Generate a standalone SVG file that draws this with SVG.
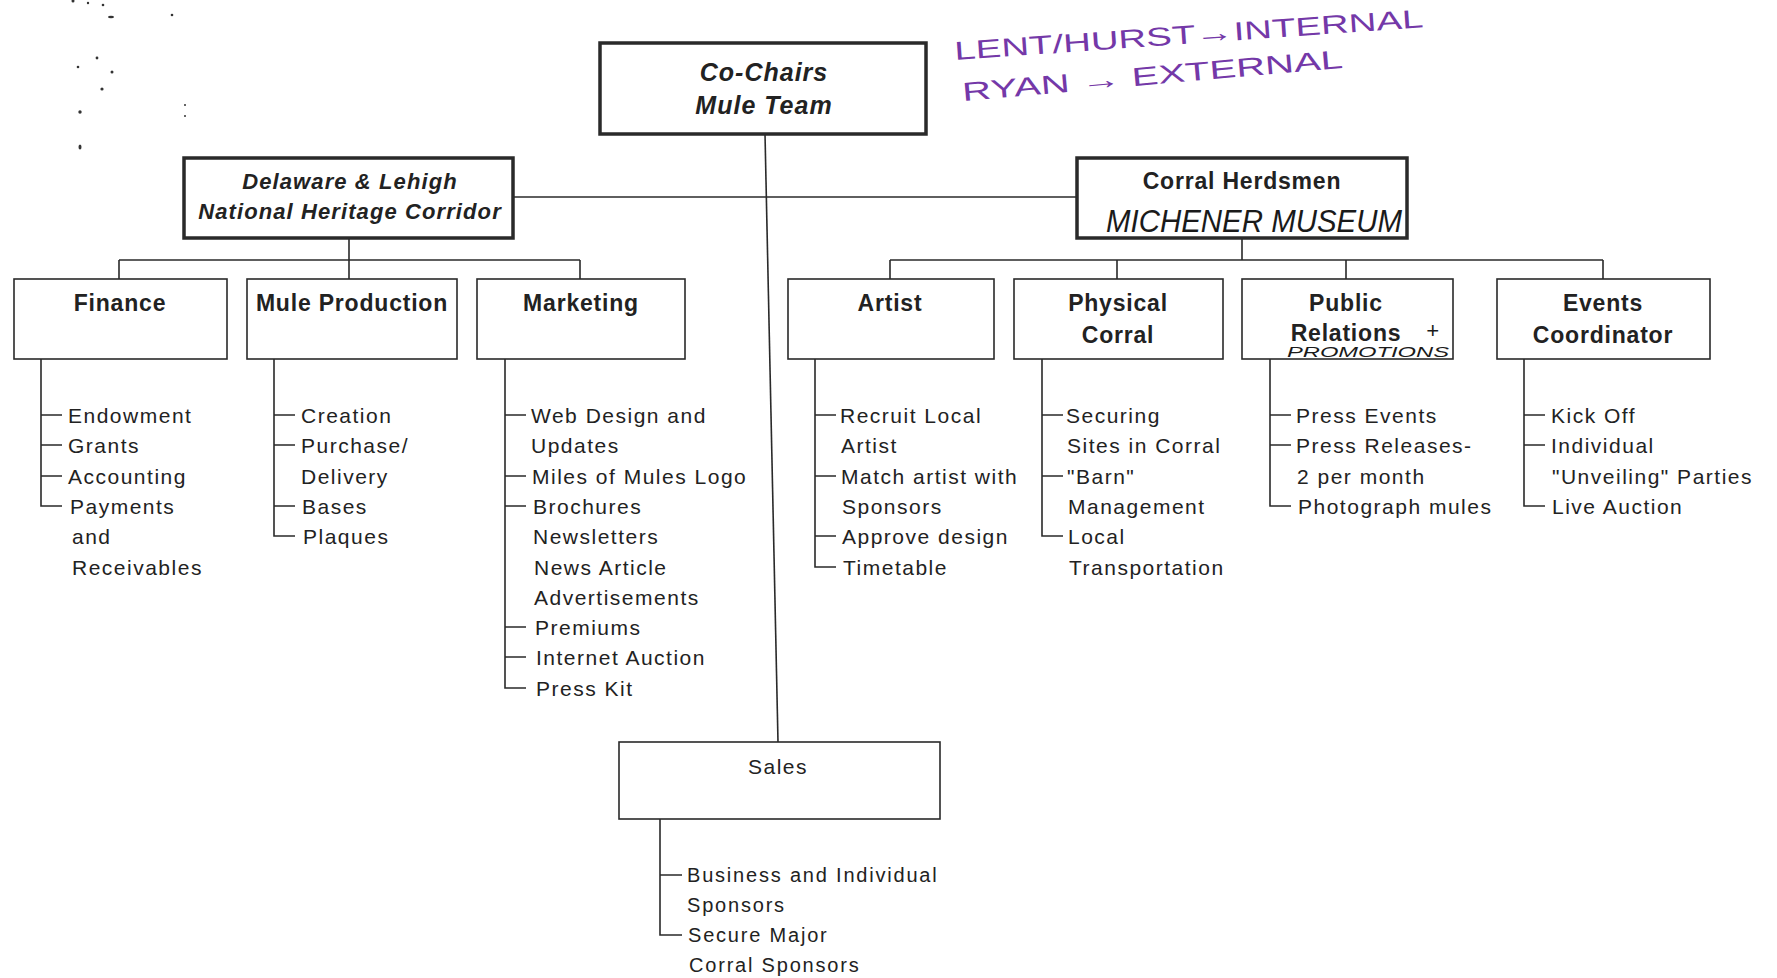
<svg xmlns="http://www.w3.org/2000/svg" width="1777" height="978" viewBox="0 0 1777 978">
<style>
.bg{fill:#ffffff}
.top{fill:#fff;stroke:#2a2a2a;stroke-width:3.5}
.box{fill:#fff;stroke:#2a2a2a;stroke-width:1.6}
.ln{fill:none;stroke:#2a2a2a;stroke-width:1.6}
.t1{font-family:"Liberation Sans",Arial,sans-serif;font-weight:bold;font-style:italic;font-size:25px;letter-spacing:1px;fill:#222;text-anchor:middle}
.t2{font-family:"Liberation Sans",Arial,sans-serif;font-weight:bold;font-style:italic;font-size:22px;letter-spacing:1.1px;fill:#222;text-anchor:middle}
.t3{font-family:"Liberation Sans",Arial,sans-serif;font-weight:bold;font-size:23px;letter-spacing:0.8px;fill:#222;text-anchor:middle}
.ts{font-family:"Liberation Sans",Arial,sans-serif;font-size:21px;letter-spacing:1.5px;fill:#222;text-anchor:middle}
.it{font-family:"Liberation Sans",Arial,sans-serif;font-size:21px;letter-spacing:1.5px;fill:#222}
.is{font-family:"Liberation Sans",Arial,sans-serif;font-size:20px;letter-spacing:1.8px;fill:#222}
.hw{font-family:"Liberation Sans",Arial,sans-serif;font-style:italic;fill:#1a1a1a}
.pu{font-family:"Liberation Sans",Arial,sans-serif;font-size:26px;fill:#7438a8}
.sp{fill:#333}
</style>
<rect class="bg" x="0" y="0" width="1777" height="978"/>

<g id="scan-specks">
<circle class="sp" cx="73" cy="1" r="1.5"/><circle class="sp" cx="88" cy="3" r="1.2"/><circle class="sp" cx="103" cy="5" r="1.3"/>
<ellipse class="sp" cx="111" cy="17" rx="3" ry="1.3"/><circle class="sp" cx="172" cy="15" r="1.3"/>
<circle class="sp" cx="97" cy="58" r="1.4"/><circle class="sp" cx="78" cy="67" r="1.3"/><circle class="sp" cx="112" cy="72" r="1.5"/>
<circle class="sp" cx="102" cy="89" r="1.6"/><circle class="sp" cx="80" cy="112" r="1.7"/><circle class="sp" cx="185" cy="105" r="1"/>
<circle class="sp" cx="185" cy="116" r="1"/><ellipse class="sp" cx="80" cy="147" rx="1.5" ry="2.5"/>
</g>

<g id="connectors">
<path class="ln" d="M765 134 L778 742"/>
<path class="ln" d="M513 197 H1077"/>
<path class="ln" d="M349 238 V260 M119 260 H580 M119 260 V279 M349 260 V279 M580 260 V279"/>
<path class="ln" d="M1242 238 V260 M890 260 H1603 M890 260 V279 M1117 260 V279 M1346 260 V279 M1603 260 V279"/>
<path class="ln" d="M41 359 V506 H62 M41 415 H62 M41 445 H62 M41 476 H62"/>
<path class="ln" d="M274 359 V536 H295 M274 415 H295 M274 445 H295 M274 506 H295"/>
<path class="ln" d="M505 359 V688 H526 M505 415 H526 M505 476 H526 M505 506 H526 M505 627 H526 M505 657 H526"/>
<path class="ln" d="M815 359 V567 H836 M815 415 H836 M815 476 H836 M815 536 H836"/>
<path class="ln" d="M1042 359 V536 H1063 M1042 415 H1063 M1042 476 H1063"/>
<path class="ln" d="M1270 359 V506 H1291 M1270 415 H1291 M1270 445 H1291"/>
<path class="ln" d="M1524 359 V506 H1545 M1524 415 H1545 M1524 445 H1545"/>
<path class="ln" d="M660 819 V935 H682 M660 875 H682"/>
</g>

<g id="annotation">
<text class="pu" x="955" y="60" transform="rotate(-4 955 60)" textLength="470" lengthAdjust="spacingAndGlyphs">LENT/HURST→INTERNAL</text>
<text class="pu" x="963" y="101" transform="rotate(-5 963 101)" textLength="382" lengthAdjust="spacingAndGlyphs">RYAN → EXTERNAL</text>
</g>

<g id="co-chairs">
<rect class="top" x="600" y="43" width="326" height="91"/>
<text class="t1" x="764" y="81">Co-Chairs</text>
<text class="t1" x="764" y="114">Mule Team</text>
</g>

<g id="delaware">
<rect class="top" x="184" y="158" width="329" height="80"/>
<text class="t2" x="350" y="189">Delaware &amp; Lehigh</text>
<text class="t2" x="350" y="219">National Heritage Corridor</text>
</g>

<g id="corral-herdsmen">
<rect class="top" x="1077" y="158" width="330" height="80"/>
<text class="t3" x="1242" y="189">Corral Herdsmen</text>
<text class="hw" x="1106" y="232" font-size="32" textLength="296" lengthAdjust="spacingAndGlyphs">MICHENER MUSEUM</text>
</g>

<g id="finance">
<rect class="box" x="14" y="279" width="213" height="80"/>
<text class="t3" x="120" y="311">Finance</text>
<text class="it" x="68" y="423">Endowment</text>
<text class="it" x="68" y="453">Grants</text>
<text class="it" x="68" y="484">Accounting</text>
<text class="it" x="70" y="514">Payments</text>
<text class="it" x="72" y="544">and</text>
<text class="it" x="72" y="575">Receivables</text>
</g>

<g id="mule-production">
<rect class="box" x="247" y="279" width="210" height="80"/>
<text class="t3" x="352" y="311">Mule Production</text>
<text class="it" x="301" y="423">Creation</text>
<text class="it" x="301" y="453">Purchase/</text>
<text class="it" x="301" y="484">Delivery</text>
<text class="it" x="302" y="514">Bases</text>
<text class="it" x="303" y="544">Plaques</text>
</g>

<g id="marketing">
<rect class="box" x="477" y="279" width="208" height="80"/>
<text class="t3" x="581" y="311">Marketing</text>
<text class="it" x="531" y="423">Web Design and</text>
<text class="it" x="531" y="453">Updates</text>
<text class="it" x="532" y="484">Miles of Mules Logo</text>
<text class="it" x="533" y="514">Brochures</text>
<text class="it" x="533" y="544">Newsletters</text>
<text class="it" x="534" y="575">News Article</text>
<text class="it" x="534" y="605">Advertisements</text>
<text class="it" x="535" y="635">Premiums</text>
<text class="it" x="536" y="665">Internet Auction</text>
<text class="it" x="536" y="696">Press Kit</text>
</g>

<g id="artist">
<rect class="box" x="788" y="279" width="206" height="80"/>
<text class="t3" x="890" y="311">Artist</text>
<text class="it" x="840" y="423">Recruit Local</text>
<text class="it" x="841" y="453">Artist</text>
<text class="it" x="841" y="484">Match artist with</text>
<text class="it" x="842" y="514">Sponsors</text>
<text class="it" x="842" y="544">Approve design</text>
<text class="it" x="843" y="575">Timetable</text>
</g>

<g id="physical-corral">
<rect class="box" x="1014" y="279" width="209" height="80"/>
<text class="t3" x="1118" y="311">Physical</text>
<text class="t3" x="1118" y="343">Corral</text>
<text class="it" x="1066" y="423">Securing</text>
<text class="it" x="1067" y="453">Sites in Corral</text>
<text class="it" x="1067" y="484">"Barn"</text>
<text class="it" x="1068" y="514">Management</text>
<text class="it" x="1068" y="544">Local</text>
<text class="it" x="1069" y="575">Transportation</text>
</g>

<g id="public-relations">
<rect class="box" x="1242" y="279" width="211" height="80"/>
<text class="t3" x="1346" y="311">Public</text>
<text class="t3" x="1346" y="341">Relations</text>
<text class="hw" x="1426" y="338" font-size="22">+</text>
<text class="hw" x="1287" y="357" font-size="14" textLength="162" lengthAdjust="spacingAndGlyphs">PROMOTIONS</text>
<text class="it" x="1296" y="423">Press Events</text>
<text class="it" x="1296" y="453">Press Releases-</text>
<text class="it" x="1297" y="484">2 per month</text>
<text class="it" x="1298" y="514">Photograph mules</text>
</g>

<g id="events-coordinator">
<rect class="box" x="1497" y="279" width="213" height="80"/>
<text class="t3" x="1603" y="311">Events</text>
<text class="t3" x="1603" y="343">Coordinator</text>
<text class="it" x="1551" y="423">Kick Off</text>
<text class="it" x="1551" y="453">Individual</text>
<text class="it" x="1552" y="484">"Unveiling" Parties</text>
<text class="it" x="1552" y="514">Live Auction</text>
</g>

<g id="sales">
<rect class="box" x="619" y="742" width="321" height="77"/>
<text class="ts" x="778" y="774">Sales</text>
<text class="is" x="687" y="882">Business and Individual</text>
<text class="is" x="687" y="912">Sponsors</text>
<text class="is" x="688" y="942">Secure Major</text>
<text class="is" x="689" y="972">Corral Sponsors</text>
</g>
</svg>
